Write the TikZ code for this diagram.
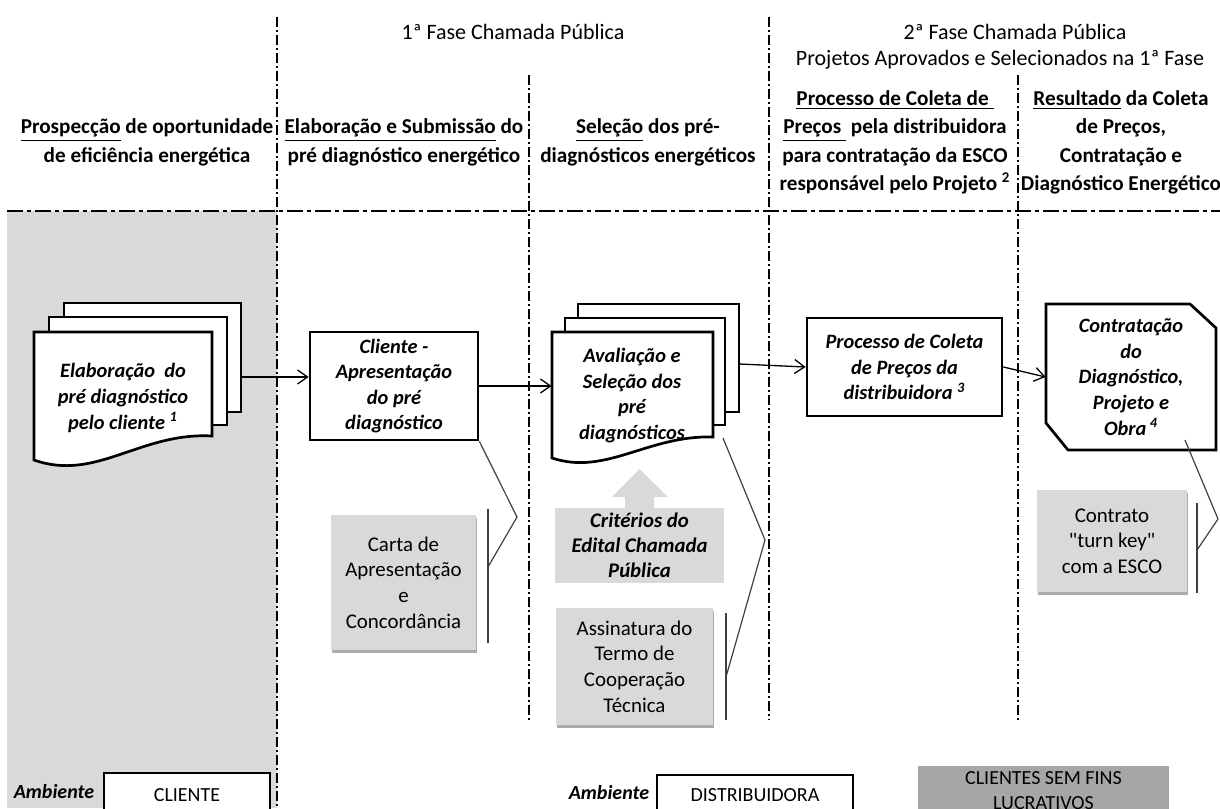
\documentclass[tikz,border=0pt]{standalone}
\usepackage{fontspec}
\setmainfont{Carlito}
\newfontfamily\carlitoplain{Carlito}
\usetikzlibrary{arrows.meta,fit,shadows}
\definecolor{lgray}{HTML}{D9D9D9}
\definecolor{mgray}{HTML}{A6A6A6}
\definecolor{lnk}{HTML}{404040}
\newcommand{\boxfont}{\fontsize{10.2}{12.8}\selectfont\bfseries\itshape}
\tikzset{
  ddline/.style={line width=0.75pt, dash pattern=on 5pt off 1.5pt on 1pt off 1.5pt},
  hddline/.style={line width=0.75pt, dash pattern=on 8pt off 2pt on 2pt off 2pt},
  docline/.style={line width=1.35pt, fill=white, line join=miter},
  procbox/.style={draw, line width=1.35pt, fill=white, inner sep=0pt, align=center, font=\boxfont},
  boxtxt/.style={inner sep=0pt, align=center, font=\boxfont},
  hdr/.style={inner sep=0pt, align=center, font=\fontsize{10.6}{14.25}\selectfont\bfseries},
  toptxt/.style={inner sep=0pt, font=\fontsize{11}{13}\selectfont},
  note/.style={fill=lgray, inner sep=0pt, align=center, font=\fontsize{10.45}{12.85}\selectfont,
    drop shadow={shadow xshift=0.3pt, shadow yshift=-1.5pt, fill=black!38, opacity=0.85}},
  arr/.style={line width=0.65pt, -{Straight Barb[length=5pt,width=7pt]}},
  conn/.style={line width=0.6pt, draw=lnk},
  brk/.style={line width=0.9pt, draw=lnk},
  legtxt/.style={inner sep=0pt, font=\fontsize{10}{12}\selectfont\bfseries\itshape},
  legbox/.style={draw, line width=1.35pt, fill=white, inner sep=0pt, font=\fontsize{10}{12}\selectfont},
}
\begin{document}
\begin{tikzpicture}[x=0.5pt,y=-0.5pt]
\useasboundingbox (0,0) rectangle (1220,808);
\clip (0,0) rectangle (1220,808);
% background area and lane separators
\fill[lgray] (7,211) rectangle (277,808);
\draw[hddline] (7,211) -- (1220,211);
\draw[ddline] (277,17) -- (277,808);
\draw[ddline] (529,75) -- (529,720);
\draw[ddline] (769,17) -- (769,720);
\draw[ddline] (1018,75) -- (1018,720);

% top headers
\node[toptxt] (fase1) at (513,32) {1ª Fase Chamada Pública};
\node[toptxt] (fase2) at (1015,32) {2ª Fase Chamada Pública};
\node[toptxt] (fase2s) at (1000,60) {Projetos Aprovados e Selecionados na 1ª Fase};

% column headers
\node[hdr] (hc1) at (147,142.5) {\underline{Prospecção} de oportunidade\\de eficiência energética};
\node[hdr] (hc2) at (404,142.5) {\underline{Elaboração e Submissão} do\\pré diagnóstico energético};
\node[hdr] (hc3) at (648,142.5) {\underline{Seleção} dos pré-\\diagnósticos energéticos};
\node[hdr] (hc4) at (895,142.5) {\underline{Processo de Coleta de\ }\\\underline{Preços\ } pela distribuidora\\para contratação da ESCO\\responsável pelo Projeto \textsuperscript{2}};
\node[hdr] (hc5) at (1121,142.5) {\underline{Resultado} da Coleta\\de Preços,\\Contratação e\\Diagnóstico Energético};

% document stack 1
\draw[docline] (64,303) rectangle (241,412);
\draw[docline] (49,317) rectangle (227,425);
\draw[docline] (34,332) -- (212,332) -- (212,436) .. controls (140,432) and (96,482) .. (34,460) -- cycle;
\node[fit={(34,303) (241,467)}, inner sep=0pt] (stack1) {};
\node[boxtxt] (t1) at (123,398) {Elaboração\ \ do\\pré diagnóstico\\pelo cliente \textsuperscript{1}};

% Cliente box
\node[procbox, minimum width=84pt, minimum height=54pt] (cli) at (394,386) {Cliente -\\Apresentação\\do pré\\diagnóstico};

% document stack 2
\draw[docline] (578,304) rectangle (739,412);
\draw[docline] (565,318) rectangle (725,425);
\draw[docline] (552,332) -- (713,332) -- (713,437) .. controls (648,435) and (606,476) .. (552,458) -- cycle;
\node[fit={(552,304) (739,463)}, inner sep=0pt] (stack2) {};
\node[boxtxt] (t2) at (632,395.5) {Avaliação e\\Seleção dos\\pré\\diagnósticos};

% Processo box
\node[procbox, minimum width=97.5pt, minimum height=49pt] (proc) at (904.5,367) {Processo de Coleta\\de Preços da\\distribuidora \textsuperscript{3}};

% Contratação (chamfered)
\draw[docline] (1046,304) -- (1190,304) -- (1216,328) -- (1216,450) -- (1068,450) -- (1046,423) -- cycle;
\node[boxtxt, minimum width=85pt, minimum height=73pt] (con) at (1131,377) {Contratação\\do\\Diagnóstico,\\Projeto e\\Obra\,\textsuperscript{4}};

% flow arrows
\draw[arr] ([yshift=4pt]stack1.east) -- ([yshift=4.5pt]cli.west);
\draw[arr] (cli.east) -- ([yshift=-1.25pt]stack2.west);
\draw[arr] ([yshift=9.75pt]stack2.east) -- (proc.west);
\draw[arr] (proc.east) -- (con.west);

% annotations
\node[note, minimum width=72.5pt, minimum height=67.5pt] (carta) at (403.5,582.5) {Carta de\\Apresentação\\e\\Concordância};
\fill[lgray] (625,509) -- (625,497) -- (612,497) -- (639.5,469) -- (668,497) -- (654,497) -- (654,509) -- cycle;
\node[fill=lgray, inner sep=0pt, align=center, minimum width=84.5pt, minimum height=37.5pt, font=\fontsize{10.4}{12.5}\selectfont\bfseries\itshape] (crit) at (639.5,545.5) {Critérios do\\Edital Chamada\\Pública};
\node[note, minimum width=78.5pt, minimum height=58.5pt] (assin) at (634.5,666.5) {Assinatura do\\Termo de\\Cooperação\\Técnica};
\node[note, minimum width=75pt, minimum height=51pt] (contr) at (1112,541) {Contrato\\{\carlitoplain "turn key"}\\com a ESCO};

% annotation brackets and connectors
\coordinate (a1) at (517,517);
\coordinate (j1) at (488,567);
\coordinate (b1t) at (488,509);
\coordinate (b1b) at (488,643);
\draw[brk] (b1t) -- (b1b);
\draw[conn] (cli.south east) -- (a1) -- (j1);

\coordinate (s2) at (723,438);
\coordinate (a2) at (765,540);
\coordinate (j2) at (726,677);
\coordinate (b2t) at (726,613);
\coordinate (b2b) at (726,720);
\draw[brk] (b2t) -- (b2b);
\draw[conn] (s2) -- (a2) -- (j2);

\coordinate (s3) at (1185,440);
\coordinate (a3) at (1218,519);
\coordinate (j3) at (1197,550);
\coordinate (b3t) at (1197,503);
\coordinate (b3b) at (1197,593);
\draw[brk] (b3t) -- (b3b);
\draw[conn] (s3) -- (a3) -- (j3);

% legend
\node[legtxt] (amb1) at (54,792) {Ambiente};
\node[legbox, minimum width=83pt, minimum height=22pt] (envcli) at (187,795) {CLIENTE};
\node[legtxt] (amb2) at (609,793) {Ambiente};
\node[legbox, minimum width=98pt, minimum height=20pt] (envdist) at (755,795) {DISTRIBUIDORA};
\node[fill=mgray, inner sep=0pt, align=center, minimum width=125.5pt, minimum height=24.5pt, font=\fontsize{10}{12.5}\selectfont] (envsfl) at (1043.5,790.5) {CLIENTES SEM FINS\\LUCRATIVOS};
\end{tikzpicture}
\end{document}
